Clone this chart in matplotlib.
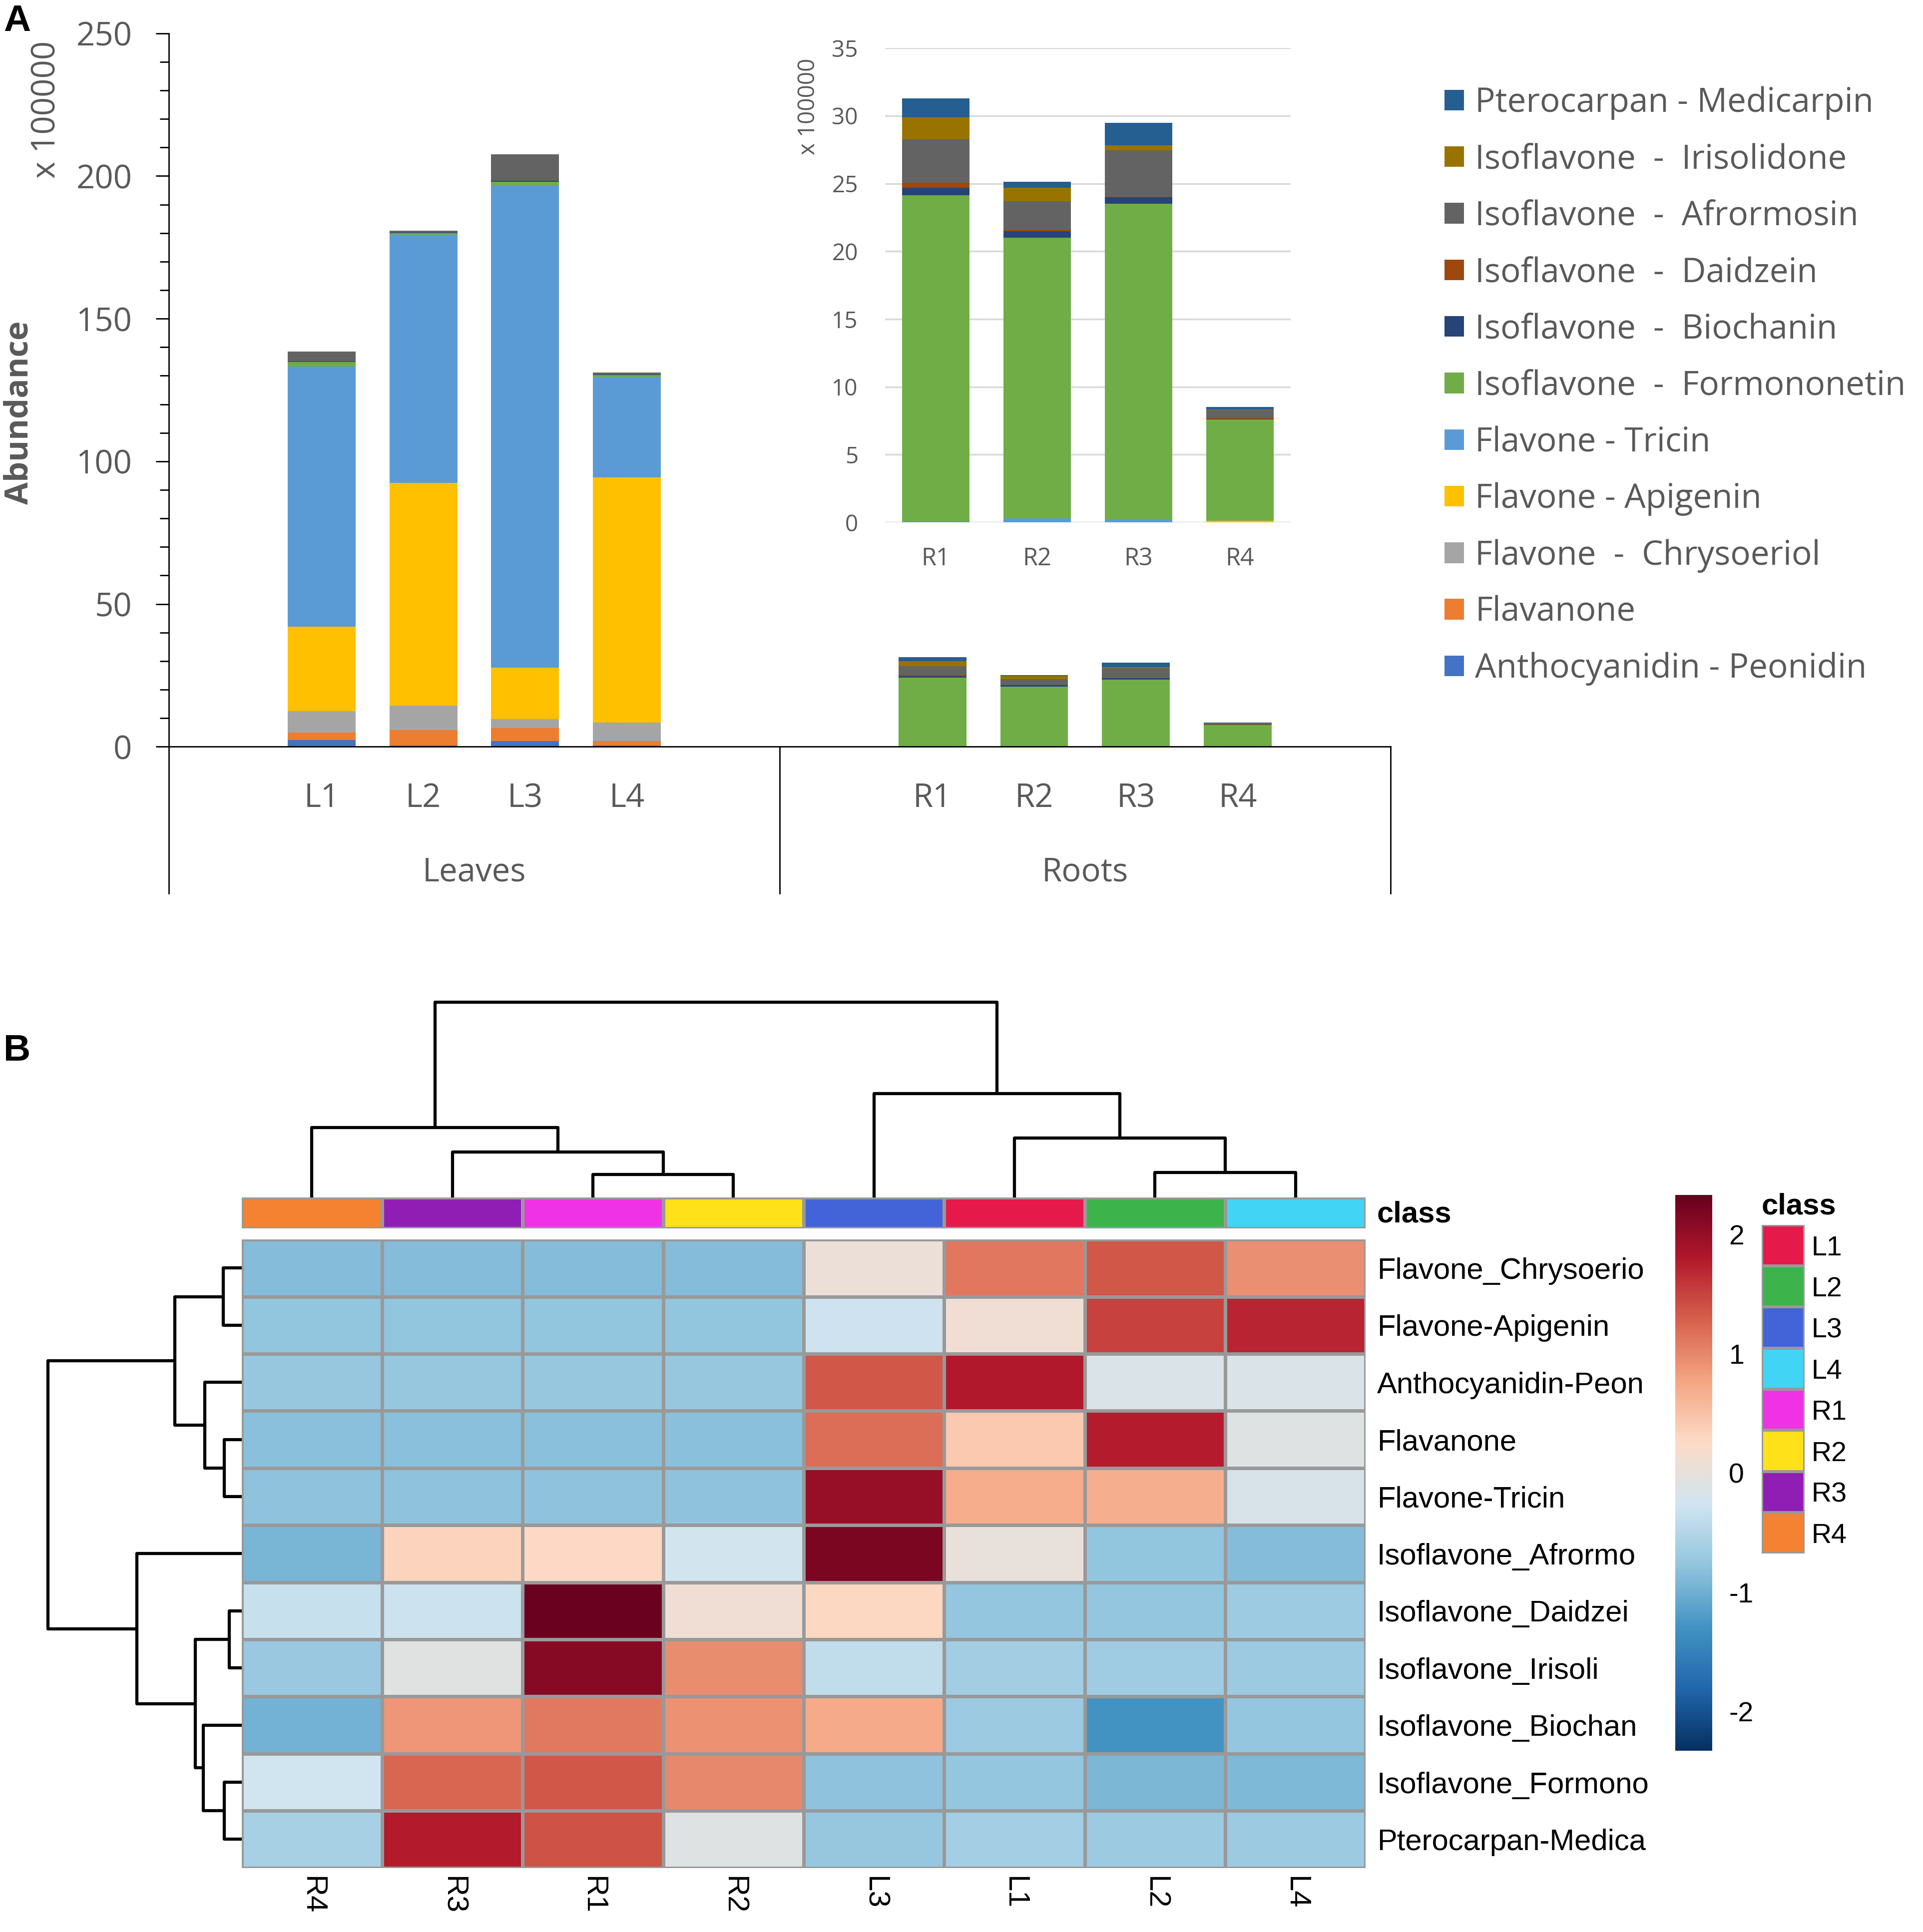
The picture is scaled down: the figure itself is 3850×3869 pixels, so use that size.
import numpy as np
import matplotlib
matplotlib.use('Agg')
import matplotlib.pyplot as plt
from matplotlib.colors import LinearSegmentedColormap, ListedColormap, Normalize
from matplotlib.patches import Patch
import matplotlib.transforms as mtransforms

plt.rcParams['font.family'] = ['Open Sans', 'DejaVu Sans']

# ---------------- data: panel A ----------------
samples = ['L1', 'L2', 'L3', 'L4', 'R1', 'R2', 'R3', 'R4']
groups = ['Leaves', 'Roots']
root_samples = ['R1', 'R2', 'R3', 'R4']

# stacked from bottom to top (x 100000)
peonidin     = [2.35, 0.4, 1.9, 0.4, 0.0, 0.0, 0.0, 0.0]
flavanone    = [2.65, 5.5, 4.6, 1.6, 0.0, 0.0, 0.0, 0.0]
chrysoeriol  = [7.4, 8.5, 3.2, 6.4, 0.0, 0.0, 0.0, 0.0]
apigenin     = [29.7, 78.1, 18.0, 85.9, 0.0, 0.0, 0.0, 0.1]
tricin       = [91.1, 86.9, 168.9, 35.3, 0.05, 0.3, 0.2, 0.0]
formononetin = [1.6, 0.6, 1.4, 0.7, 24.1, 20.7, 23.3, 7.5]
biochanin    = [0.2, 0.1, 0.3, 0.1, 0.54, 0.49, 0.49, 0.05]
daidzein     = [0.0, 0.0, 0.0, 0.0, 0.37, 0.1, 0.05, 0.05]
afrormosin   = [3.4, 0.8, 9.2, 0.7, 3.2, 2.1, 3.4, 0.6]
irisolidone  = [0.0, 0.0, 0.0, 0.0, 1.64, 1.0, 0.4, 0.02]
medicarpin   = [0.0, 0.0, 0.0, 0.0, 1.4, 0.43, 1.64, 0.19]

series = [peonidin, flavanone, chrysoeriol, apigenin, tricin, formononetin,
          biochanin, daidzein, afrormosin, irisolidone, medicarpin]
series_labels = ['Anthocyanidin - Peonidin', 'Flavanone', 'Flavone  -  Chrysoeriol',
                 'Flavone - Apigenin', 'Flavone - Tricin', 'Isoflavone  -  Formononetin',
                 'Isoflavone  -  Biochanin', 'Isoflavone  -  Daidzein',
                 'Isoflavone  -  Afrormosin', 'Isoflavone  -  Irisolidone',
                 'Pterocarpan - Medicarpin']
series_colors = ['#4472C4', '#ED7D31', '#A5A5A5', '#FFC000', '#5B9BD5', '#70AD47',
                 '#264478', '#9E480E', '#636363', '#997300', '#255E91']

main_ticks = [0, 50, 100, 150, 200, 250]
inset_ticks = [0, 5, 10, 15, 20, 25, 30, 35]

# ---------------- data: panel B ----------------
heat_cols = ['R4', 'R3', 'R1', 'R2', 'L3', 'L1', 'L2', 'L4']
heat_rows = ['Flavone_Chrysoerio', 'Flavone-Apigenin', 'Anthocyanidin-Peon', 'Flavanone',
             'Flavone-Tricin', 'Isoflavone_Afrormo', 'Isoflavone_Daidzei',
             'Isoflavone_Irisoli', 'Isoflavone_Biochan', 'Isoflavone_Formono',
             'Pterocarpan-Medica']
row_chrysoerio = [-0.86, -0.86, -0.86, -0.86, 0.05, 1.12, 1.35, 0.93]
row_apigenin   = [-0.77, -0.77, -0.77, -0.77, -0.28, 0.10, 1.50, 1.72]
row_peon       = [-0.74, -0.74, -0.74, -0.74, 1.35, 1.82, -0.15, -0.15]
row_flavanone  = [-0.82, -0.82, -0.82, -0.82, 1.20, 0.42, 1.77, -0.10]
row_tricin     = [-0.80, -0.80, -0.80, -0.80, 2.00, 0.70, 0.68, -0.18]
row_afrormo    = [-0.93, 0.33, 0.28, -0.25, 2.20, 0.00, -0.77, -0.86]
row_daidzei    = [-0.33, -0.30, 2.30, 0.10, 0.30, -0.76, -0.76, -0.68]
row_irisoli    = [-0.72, -0.08, 2.10, 0.95, -0.40, -0.64, -0.66, -0.70]
row_biochan    = [-0.97, 0.88, 1.10, 0.92, 0.72, -0.70, -1.30, -0.75]
row_formono    = [-0.27, 1.25, 1.35, 1.00, -0.80, -0.75, -0.92, -0.90]
row_medica     = [-0.60, 1.80, 1.40, -0.10, -0.74, -0.62, -0.70, -0.70]
heat_values = [row_chrysoerio, row_apigenin, row_peon, row_flavanone, row_tricin,
               row_afrormo, row_daidzei, row_irisoli, row_biochan, row_formono,
               row_medica]
heat_limit = 2.33
cbar_ticks = [2, 1, 0, -1, -2]

# dendrogram merges (child a, child b, height); new clusters numbered n, n+1, ...
col_merges = [(2, 3, 18.9), (1, 8, 37.2), (0, 9, 56.7), (6, 7, 20.3),
              (5, 11, 48.2), (4, 12, 84.3), (10, 13, 158.8)]
row_merges = [(0, 1, 15.0), (3, 4, 14.0), (2, 12, 30.0), (11, 13, 54.0),
              (6, 7, 10.0), (9, 10, 14.0), (8, 16, 31.0), (15, 17, 37.6),
              (5, 18, 85.0), (14, 19, 157.0)]

class_names = ['L1', 'L2', 'L3', 'L4', 'R1', 'R2', 'R3', 'R4']
class_colors = ['#E6194B', '#3CB44B', '#4363D8', '#42D4F4', '#F032E6', '#FFE119',
                '#911EB4', '#F58231']
rdbu10 = ['#053061', '#2166AC', '#4393C3', '#92C5DE', '#D1E5F0', '#FDDBC7',
          '#F4A582', '#D6604D', '#B2182B', '#67001F']

# ---------------- figure ----------------
W, H = 1560.0, 1568.0   # layout reference grid
fig = plt.figure(figsize=(38.5, 38.69), dpi=100)


def rect(x0, y0, x1, y1):
    return [x0 / W, 1 - y1 / H, (x1 - x0) / W, (y1 - y0) / H]


grey_txt = '#595959'
XL = 'Open Sans'
HM = 'Liberation Sans'

# ---- main stacked bar chart ----
ax = fig.add_axes(rect(137, 27, 1128, 606))
slots = [1, 2, 3, 4, 7, 8, 9, 10]
bottom = np.zeros(len(samples))
for vals, lab, col in zip(series, series_labels, series_colors):
    ax.bar(slots, vals, width=0.667, bottom=bottom, color=col, label=lab, linewidth=0)
    bottom += np.array(vals)
ax.set_xlim(-0.5, 11.5)
ax.set_ylim(0, 250)
ax.set_yticks(main_ticks)
ax.set_yticks(np.arange(0, 251, 10), minor=True)
ax.tick_params(axis='y', which='major', length=19, width=2, colors='black',
               labelcolor=grey_txt, labelsize=47, pad=34)
ax.tick_params(axis='y', which='minor', length=13, width=2, colors='black')
for t in ax.get_yticklabels():
    t.set_fontfamily(XL)
ax.set_xticks([])
for s in ['top', 'right']:
    ax.spines[s].set_visible(False)
ax.spines['left'].set_linewidth(2)
ax.spines['bottom'].set_linewidth(2)
trans = mtransforms.blended_transform_factory(ax.transData, ax.transAxes)
for xs in [-0.5, 5.5, 11.5]:
    ax.plot([xs, xs], [0, -0.2055], color='black', lw=2, transform=trans, clip_on=False)
for s, x in zip(samples, slots):
    ax.text(x, -0.0728, s, transform=trans, ha='center', va='center', fontsize=47,
            color=grey_txt, family=XL)
for g, x in zip(groups, [2.5, 8.5]):
    ax.text(x, -0.1764, g, transform=trans, ha='center', va='center', fontsize=47,
            color=grey_txt, family=XL)
fig.text(38 / W, 1 - 89 / H, 'x 100000', rotation=90, ha='center', va='center',
         fontsize=47, color=grey_txt, family=XL)
fig.text(16 / W, 1 - 335 / H, 'Abundance', rotation=90, ha='center', va='center',
         fontsize=47, color=grey_txt, family=XL, fontweight='bold')

# ---- inset chart for roots ----
axi = fig.add_axes(rect(718, 39, 1047, 424))
ib = np.zeros(4)
xi = np.arange(4)
for vals, col in zip(series, series_colors):
    v = np.array(vals[4:])
    axi.bar(xi, v, width=0.667, bottom=ib, color=col, linewidth=0, zorder=3)
    ib += v
axi.set_xlim(-0.5, 3.5)
axi.set_ylim(0, 35)
axi.set_yticks(inset_ticks)
axi.yaxis.grid(True, color='#D9D9D9', lw=2.5, zorder=0)
axi.set_axisbelow(True)
axi.set_xticks([])
axi.tick_params(axis='y', length=0, labelsize=33, labelcolor=grey_txt, pad=39)
for t in axi.get_yticklabels():
    t.set_fontfamily(XL)
for s in axi.spines.values():
    s.set_visible(False)
transi = mtransforms.blended_transform_factory(axi.transData, axi.transAxes)
for s, x in zip(root_samples, xi):
    axi.text(x, -0.0773, s, transform=transi, ha='center', va='center', fontsize=35,
             color=grey_txt, family=XL)
fig.text(656 / W, 1 - 86.5 / H, 'x 100000', rotation=90, ha='center', va='center',
         fontsize=33, color=grey_txt, family=XL)

# ---- legend ----
handles = [Patch(facecolor=c, edgecolor='none', label=l)
           for l, c in zip(series_labels, series_colors)][::-1]
fig.legend(handles=handles, loc='upper left', bbox_to_anchor=(1172 / W, 1 - 70 / H),
           frameon=False, prop={'family': XL, 'size': 48.5}, labelcolor=grey_txt,
           handlelength=0.57, handleheight=0.57, handletextpad=0.33, labelspacing=0.68,
           borderpad=0, borderaxespad=0)

fig.text(7 / 3850, 1 - 8 / 3869, 'A', ha='left', va='top', fontsize=54,
         fontweight='bold', family=HM)
fig.text(7 / 3850, 1 - 2070 / 3869, 'B', ha='left', va='top', fontsize=54,
         fontweight='bold', family=HM)

# ---------------- panel B ----------------
cmap = LinearSegmentedColormap.from_list('rdbu10', rdbu10, N=256)
norm = Normalize(vmin=-heat_limit, vmax=heat_limit)
border = '#999999'

axh = fig.add_axes(rect(196, 1006, 1108, 1516))
mesh = axh.pcolormesh(np.array(heat_values), cmap=cmap, norm=norm,
                      edgecolors=border, linewidth=3.8)
axh.set_xlim(0, len(heat_cols))
axh.set_ylim(len(heat_rows), 0)
for s in axh.spines.values():
    s.set_visible(False)
axh.yaxis.tick_right()
axh.set_yticks(np.arange(len(heat_rows)) + 0.5)
axh.set_yticklabels(heat_rows, family=HM, fontsize=43)
axh.set_xticks(np.arange(len(heat_cols)) + 0.5)
axh.set_xticklabels(heat_cols, family=HM, fontsize=43, rotation=270)
axh.tick_params(length=0)
axh.tick_params(axis='y', pad=16)
axh.tick_params(axis='x', pad=12)

# annotation bar
axa = fig.add_axes(rect(196, 972, 1108, 997))
col_class_idx = [class_names.index(c) for c in heat_cols]
axa.pcolormesh(np.array([col_class_idx]), cmap=ListedColormap(class_colors),
               vmin=-0.5, vmax=len(class_names) - 0.5, edgecolors=border, linewidth=3.8)
axa.set_xlim(0, len(heat_cols))
axa.set_ylim(0, 1)
axa.set_xticks([])
axa.set_yticks([])
for s in axa.spines.values():
    s.set_visible(False)
axa.text(1.0 + 9 / 912, 0.45, 'class', transform=axa.transAxes, ha='left', va='center',
         fontsize=43, fontweight='bold', family=HM)


def dendro_segments(merges, n):
    pos = {i: i + 0.5 for i in range(n)}
    hgt = {i: 0.0 for i in range(n)}
    segs = []
    for k, (a, b, h) in enumerate(merges):
        segs.append(([pos[a], pos[a], pos[b], pos[b]], [hgt[a], h, h, hgt[b]]))
        pos[n + k] = (pos[a] + pos[b]) / 2.0
        hgt[n + k] = h
    return segs


dlw = 4.5
top_h = max(m[2] for m in col_merges)
axd = fig.add_axes(rect(196, 972 - top_h, 1108, 972))
for xs, ys in dendro_segments(col_merges, len(heat_cols)):
    axd.plot(xs, ys, color='black', lw=dlw, clip_on=False, solid_capstyle='butt')
axd.set_xlim(0, len(heat_cols))
axd.set_ylim(0, top_h)
axd.axis('off')

left_h = max(m[2] for m in row_merges)
axl = fig.add_axes(rect(196 - left_h, 1006, 196, 1516))
for xs, ys in dendro_segments(row_merges, len(heat_rows)):
    axl.plot(ys, xs, color='black', lw=dlw, clip_on=False, solid_capstyle='butt')
axl.set_ylim(len(heat_rows), 0)
axl.set_xlim(left_h, 0)
axl.axis('off')

# colorbar
cax = fig.add_axes(rect(1359, 970, 1389, 1421))
cb = fig.colorbar(mesh, cax=cax, ticks=cbar_ticks)
cb.outline.set_visible(False)
cb.ax.set_yticklabels([str(t) for t in cbar_ticks], family=HM, fontsize=40)
cb.ax.tick_params(length=0, pad=24)

# class legend
axc = fig.add_axes(rect(1429, 994, 1464, 1261))
axc.pcolormesh(np.arange(len(class_names)).reshape(-1, 1),
               cmap=ListedColormap(class_colors), vmin=-0.5,
               vmax=len(class_names) - 0.5, edgecolors=border, linewidth=4)
axc.set_xlim(0, 1)
axc.set_ylim(len(class_names), 0)
axc.yaxis.tick_right()
axc.set_yticks(np.arange(len(class_names)) + 0.5)
axc.set_yticklabels(class_names, family=HM, fontsize=40)
axc.set_xticks([])
axc.tick_params(length=0, pad=10)
for s in axc.spines.values():
    s.set_visible(False)
fig.text(1429 / W, 1 - 979 / H, 'class', ha='left', va='center', fontsize=43,
         fontweight='bold', family=HM)

fig.savefig('out.png', dpi=100, facecolor='white')
